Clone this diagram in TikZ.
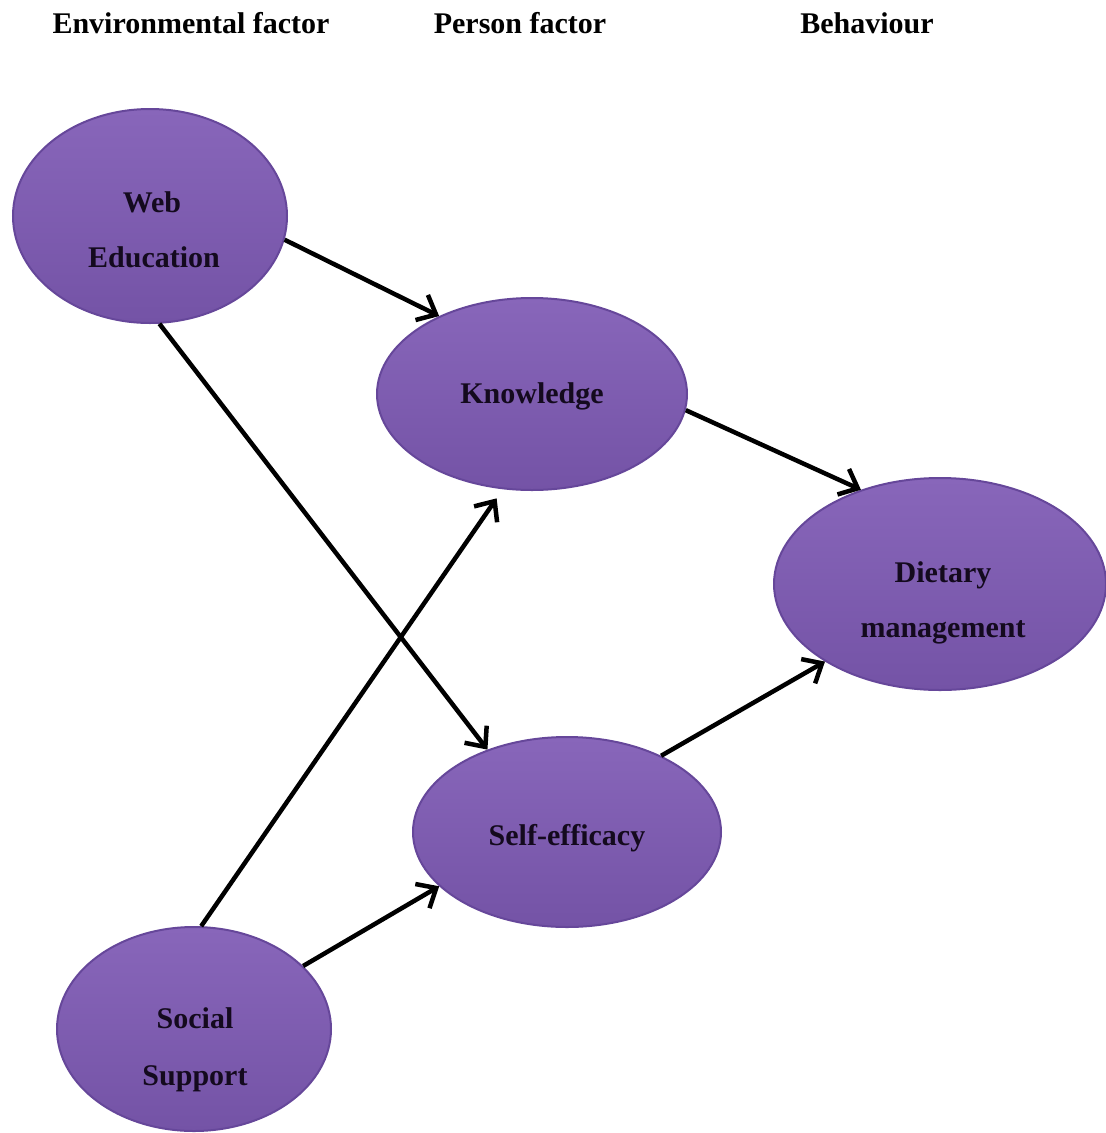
\documentclass[tikz,border=0pt]{standalone}
\usepackage{fontspec}
\setmainfont{Liberation Serif}
\usetikzlibrary{shapes.geometric,arrows.meta}

\definecolor{ovaltop}{HTML}{8866BA}
\definecolor{ovalbot}{HTML}{7453A6}
\definecolor{ovalrim}{HTML}{66479A}
\definecolor{inktext}{HTML}{140A1E}

\tikzset{
  oval/.style={ellipse, inner sep=0pt, top color=ovaltop, bottom color=ovalbot,
               draw=ovalrim, line width=2pt},
  heading/.style={anchor=base, inner sep=0pt, font=\fontsize{30}{36}\selectfont\bfseries},
  ovaltext/.style={anchor=base, inner sep=0pt, text=inktext,
                   font=\fontsize{30}{36}\selectfont\bfseries},
  link/.style={line width=4.5pt, -{Straight Barb[length=16pt,width=28pt,line width=4.5pt]}}
}

\begin{document}
\begin{tikzpicture}[x=1pt, y=-1pt]
\useasboundingbox (0,0) rectangle (1106,1133);

% column headings
\node[heading] (henv) at (191,33) {Environmental factor};
\node[heading] (hper) at (520,33) {Person factor};
\node[heading] (hbeh) at (867,33) {Behaviour};

% constructs
\node[oval, minimum width=274pt, minimum height=214pt] (web)  at (150,216) {};
\node[oval, minimum width=310pt, minimum height=192pt] (know) at (532,394) {};
\node[oval, minimum width=332pt, minimum height=212pt] (diet) at (940,584) {};
\node[oval, minimum width=308pt, minimum height=190pt] (self) at (567,832) {};
\node[oval, minimum width=274pt, minimum height=204pt] (soc)  at (194,1029) {};

% labels inside the constructs
\node[ovaltext] (webA)  at (152,212)  {Web};
\node[ovaltext] (webB)  at (154,267)  {Education};
\node[ovaltext] (knowA) at (532,403)  {Knowledge};
\node[ovaltext] (dietA) at (943,582)  {Dietary};
\node[ovaltext] (dietB) at (943,637)  {management};
\node[ovaltext] (selfA) at (567,845)  {Self-efficacy};
\node[ovaltext] (socA)  at (195,1028) {Social};
\node[ovaltext] (socB)  at (195,1085) {Support};

% paths between constructs
\draw[link] (web.-10)  -- (know.140);
\draw[link] (web.-85)  -- (self.134);
\draw[link] (know.-6)  -- (diet.130);
\draw[link, shorten >=11pt] (soc.86) -- (know.-107);
\draw[link] (soc.30)   -- (self.-157);
\draw[link] (self.39)  -- (diet.-146);
\end{tikzpicture}
\end{document}
